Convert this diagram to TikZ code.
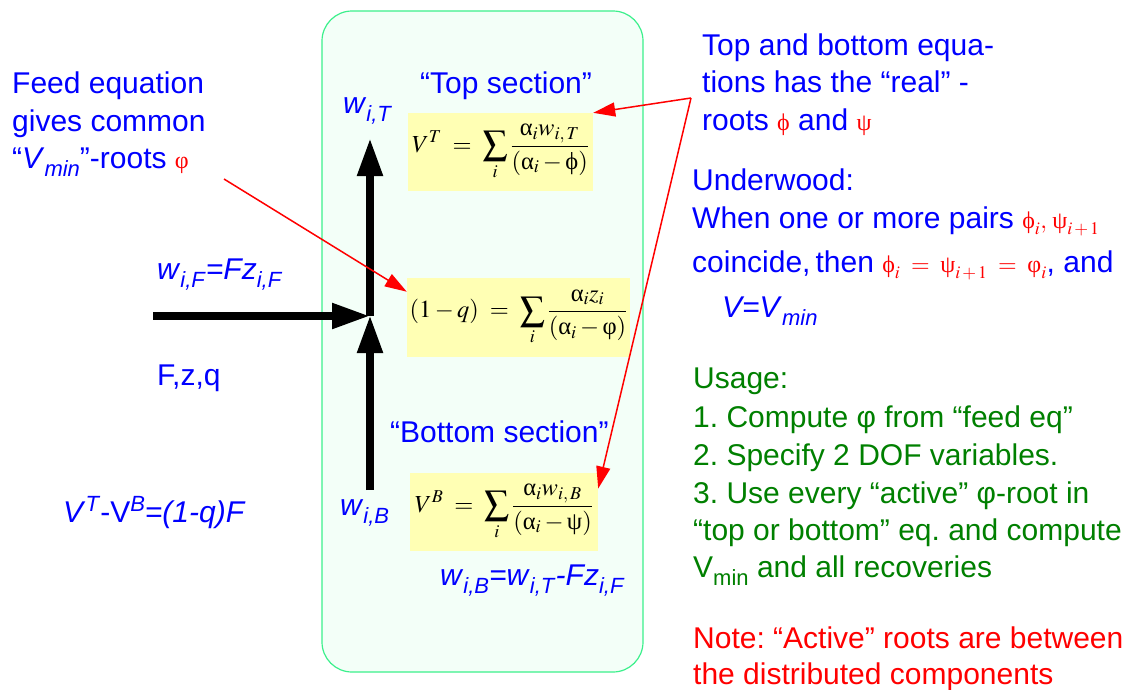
\documentclass[tikz,border=0pt]{standalone}
\usepackage{mathptmx}
\usepackage[no-math]{fontspec}
\setmainfont{Liberation Sans}
\newfontfamily\grk{Liberation Serif}
\usetikzlibrary{arrows.meta}
\definecolor{txtblue}{RGB}{0,0,255}
\definecolor{txtgreen}{RGB}{0,128,0}
\definecolor{txtred}{RGB}{255,0,0}
\definecolor{boxfill}{RGB}{243,255,248}
\definecolor{boxline}{RGB}{60,240,140}
\definecolor{eqfill}{RGB}{255,255,180}
\newcommand{\sbs}[1]{\raisebox{-8pt}{\fontsize{22}{22}\selectfont #1}}
\newcommand{\sps}[1]{\raisebox{11pt}{\fontsize{22}{22}\selectfont #1}}
\newcommand{\rmath}[1]{{\color{txtred}\fontsize{24}{24}\selectfont$#1$}}
\newcommand{\Ga}{\mathord{\mbox{\grk α}}}
\newcommand{\Gphi}{\mathord{\mbox{\grk ϕ}}}
\newcommand{\Gvphi}{\mathord{\mbox{\grk φ}}}
\newcommand{\Gpsi}{\mathord{\mbox{\grk ψ}}}
\frenchspacing
\begin{document}
\begin{tikzpicture}[x=1pt,y=-1pt,
  txt/.style={anchor=base west, inner sep=0pt, font=\fontsize{30}{36}\selectfont},
  bl/.style={txt, text=txtblue},
  gr/.style={txt, text=txtgreen},
  rd/.style={txt, text=txtred},
  column/.style={draw=boxline, fill=boxfill, line width=1.2pt, rounded corners=30pt, inner sep=0pt},
  eqbox/.style={fill=eqfill, inner sep=0pt, font=\fontsize{24.5}{29}\selectfont},
  flow/.style={line width=8pt, -{Triangle[length=38pt,width=24pt]}},
  note/.style={draw=txtred, line width=1.5pt, -{Triangle[length=22pt,width=14pt]}, fill=txtred}
]
\useasboundingbox (0,0) rectangle (1130,689);
\fill[white] (0,0) rectangle (1130,689);

% column
\node[column, minimum width=321pt, minimum height=661pt] (col) at (482.5,341.5) {};

% equation boxes
\node[eqbox, minimum width=185pt, minimum height=78pt] (topeq) at (500.5,152)
  {$\displaystyle V^T \;=\; \sum_i \frac{\Ga_i w_{i,\,T}}{(\Ga_i-\Gphi)}$};
\node[eqbox, minimum width=223pt, minimum height=79pt] (feedeq) at (518.5,317.5)
  {$\displaystyle (1-q) \;=\; \sum_i \frac{\Ga_i z_i}{(\Ga_i-\Gvphi)}$};
\node[eqbox, minimum width=188pt, minimum height=78pt] (boteq) at (504,512)
  {$\displaystyle V^B \;=\; \sum_i \frac{\Ga_i w_{i,\,B}}{(\Ga_i-\Gpsi)}$};

% labels in and around the column
\node[bl] (toplbl) at (420,93) {“Top section”};
\node[bl] (botlbl) at (390,442) {“Bottom section”};
\node[bl] (wT) at (343,113) {\textit{w}\sbs{\textit{i,T}}};
\node[bl] (wB) at (340,515) {\textit{w}\sbs{\textit{i,B}}};
\node[bl] (wF) at (157,279) {\textit{w}\sbs{\textit{i,F}}\textit{=Fz}\sbs{\textit{i,F}}};
\node[bl] (fzq) at (157,385) {F,z,q};
\node[bl] (vbal) at (63,522) {\textit{V}\sps{\textit{T}}-V\sps{\textit{B}}\textit{=(1-q)F}};
\node[bl] (wbal) at (440,585) {\textit{w}\sbs{\textit{i,B}}\textit{=w}\sbs{\textit{i,T}}\textit{-Fz}\sbs{\textit{i,F}}};

% left note
\node[bl] (feed1) at (12,93) {Feed equation};
\node[bl] (feed2) at (12,131) {gives common};
\node[bl] (feed3) at (12,168) {“\textit{V}\sbs{\textit{min}}”-roots \rmath{\Gvphi}};

% right notes
\node[bl] (tb1) at (702,55) {Top and bottom equa-};
\node[bl] (tb2) at (702,92) {tions has the “real” -};
\node[bl] (tb3) at (702,130) {roots \rmath{\Gphi} and \rmath{\Gpsi}};
\node[bl] (uw1) at (692,190) {Underwood:};
\node[bl] (uw2) at (692,228) {When one or more pairs \rmath{\Gphi_i,\,\Gpsi_{i\,+\,1}}};
\node[bl] (uw3) at (692,272) {coincide,\,then \rmath{\Gphi_i \;=\; \Gpsi_{i\,+\,1} \;=\; \Gvphi_i}, and};
\node[bl] (uw4) at (722,317) {\textit{V=V}\sbs{\textit{min}}};

\node[gr] (us0) at (693,388) {Usage:};
\node[gr] (us1) at (693,427) {1. Compute φ from “feed eq”};
\node[gr] (us2) at (693,465) {2. Specify 2 DOF variables.};
\node[gr] (us3) at (693,503) {3. Use every “active” φ-root in};
\node[gr] (us4) at (693,540) {“top or bottom” eq. and compute};
\node[gr] (us5) at (693,577) {V\sbs{min} and all recoveries};

\node[rd] (nt1) at (693,648) {Note: “Active” roots are between};
\node[rd] (nt2) at (693,684) {the distributed components};

% flows
\coordinate (feedin) at (153,316);
\coordinate (junction) at (370,316);
\coordinate (toptip) at (370,138);
\coordinate (botstart) at (370,490);
\draw[flow] (feedin) -- (junction);
\draw[flow] (junction) -- (toptip);
\draw[flow] (botstart) -- (370,315);

% red pointers
\coordinate (phitail) at (224,179);
\coordinate (rootstail) at (691,98);
\draw[note] (phitail) -- (feedeq.167);
\draw[note] (rootstail) -- (topeq.north east);
\draw[note] (rootstail) -- (boteq.14);
\end{tikzpicture}
\end{document}
